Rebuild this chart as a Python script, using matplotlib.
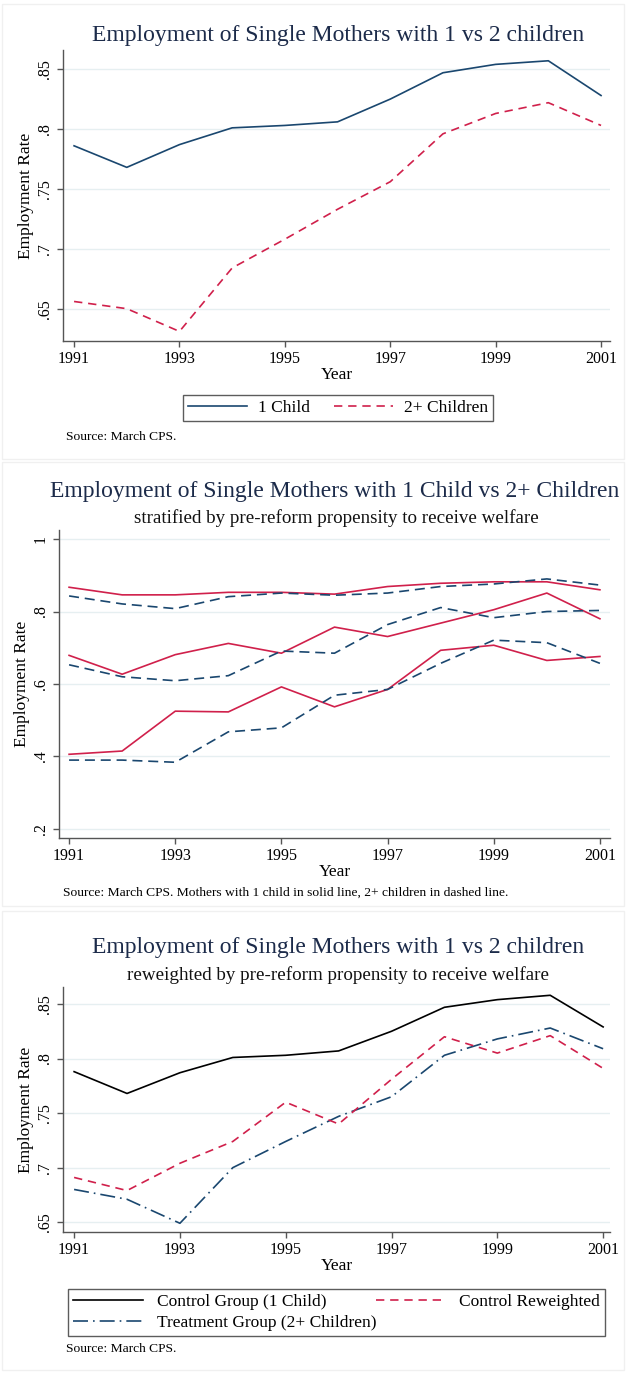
import matplotlib
matplotlib.use("Agg")
import matplotlib.pyplot as plt
from matplotlib.patches import Rectangle

# Data
years = [1991, 1992, 1993, 1994, 1995, 1996, 1997, 1998, 1999, 2000, 2001]
xticks = [1991, 1993, 1995, 1997, 1999, 2001]

# Panel 1
one_child = [.786, .768, .787, .801, .803, .806, .825, .847, .854, .857, .828]
two_plus = [.656, .650, .631, .684, .708, .733, .756, .796, .813, .822, .803]

# Panel 2 (stratified by propensity): high / mid / low groups
one_child_high = [.867, .846, .846, .853, .853, .848, .869, .878, .882, .882, .860]
one_child_mid = [.679, .627, .681, .712, .685, .757, .731, .768, .805, .851, .780]
one_child_low = [.406, .415, .525, .523, .592, .537, .585, .693, .707, .665, .676]
two_plus_high = [.843, .821, .808, .841, .851, .845, .851, .869, .876, .890, .873]
two_plus_mid = [.653, .620, .609, .623, .691, .685, .764, .811, .783, .800, .803]
two_plus_low = [.390, .390, .384, .468, .479, .569, .585, .657, .721, .714, .657]

# Panel 3
control = [.788, .768, .787, .801, .803, .807, .825, .847, .854, .858, .829]
control_rw = [.691, .679, .704, .724, .760, .740, .781, .820, .805, .821, .791]
treatment = [.680, .671, .649, .700, .724, .747, .765, .803, .818, .828, .809]

NAVY = "#1a476f"
RED = "#d0204b"
TITLE_C = "#1c2b4a"
W, H = 626, 1373

plt.rcParams["font.family"] = ["Liberation Serif", "DejaVu Serif"]

fig = plt.figure(figsize=(W / 100, H / 100), dpi=100)
fig.patch.set_facecolor("white")


def fx(px):
    return px / W


def fy(py):
    return 1 - py / H


def make_ax(left, right, top, bottom):
    ax = fig.add_axes([fx(left), fy(bottom), fx(right - left), (bottom - top) / H])
    for s in ["top", "right"]:
        ax.spines[s].set_visible(False)
    for s in ["left", "bottom"]:
        ax.spines[s].set_color("#555555")
        ax.spines[s].set_linewidth(1.0)
    ax.tick_params(colors="#555555", labelcolor="black", length=4, width=1,
                   labelsize=11.5)
    ax.grid(axis="y", color="#e6eff1", lw=1)
    ax.set_axisbelow(True)
    ax.set_xticks(xticks)
    ax.set_xticklabels([str(x) for x in xticks])
    ax.set_xlabel("Year", fontsize=12.5, labelpad=0)
    ax.set_ylabel("Employment Rate", fontsize=12.5, labelpad=2)
    return ax


def set_yt(ax, ticks, labels):
    ax.set_yticks(ticks)
    ax.set_yticklabels(labels, rotation=90, va="center")


# faint panel frames
for top, bot in [(4, 459), (462, 906), (911, 1370)]:
    fig.patches.append(Rectangle((fx(2), fy(bot)), fx(622), (bot - top) / H,
                                 transform=fig.transFigure, fill=False,
                                 ec="#f0f0f0", lw=1))

# ---------- Panel 1 ----------
ax1 = make_ax(63, 610, 50, 341)
ax1.plot(years, one_child, color=NAVY, lw=1.2, label="1 Child")
ax1.plot(years, two_plus, color=RED, lw=1.2, ls=(0, (5, 3.5)), label="2+ Children")
ax1.set_xlim(1990.79, 2001.17)
ax1.set_ylim(.623, .866)
set_yt(ax1, [.65, .7, .75, .8, .85], [".65", ".7", ".75", ".8", ".85"])
fig.text(fx(338), fy(35), "Employment of Single Mothers with 1 vs 2 children",
         ha="center", va="center", fontsize=17, color=TITLE_C)
leg1 = ax1.legend(loc="center", bbox_to_anchor=(fx(338), fy(408)),
                  bbox_transform=fig.transFigure, ncol=2, fontsize=12.5,
                  frameon=True, fancybox=False, edgecolor="#333333",
                  handlelength=3.4, handletextpad=0.6, columnspacing=1.4,
                  borderpad=0.3, borderaxespad=0)
leg1.get_frame().set_linewidth(1)
fig.text(fx(66), fy(437), "Source: March CPS.", fontsize=9.7, va="center")

# ---------- Panel 2 ----------
ax2 = make_ax(59, 610, 530, 838)
for s in [one_child_high, one_child_mid, one_child_low]:
    ax2.plot(years, s, color=RED, lw=1.2)
for s in [two_plus_high, two_plus_mid, two_plus_low]:
    ax2.plot(years, s, color=NAVY, lw=1.2, ls=(0, (6, 3.5)))
ax2.set_xlim(1990.81, 2001.19)
ax2.set_ylim(.175, 1.025)
set_yt(ax2, [.2, .4, .6, .8, 1], [".2", ".4", ".6", ".8", "1"])
fig.text(fx(335), fy(492), "Employment of Single Mothers with 1 Child vs 2+ Children",
         ha="center", va="center", fontsize=17, color=TITLE_C)
fig.text(fx(336), fy(518), "stratified by pre-reform propensity to receive welfare",
         ha="center", va="center", fontsize=13.7, color="#111111")
fig.text(fx(63), fy(893),
         "Source: March CPS. Mothers with 1 child in solid line, 2+ children in dashed line.",
         fontsize=9.7, va="center")

# ---------- Panel 3 ----------
ax3 = make_ax(63, 610, 987, 1232)
ax3.plot(years, control, color="black", lw=1.2, label="Control Group (1 Child)")
ax3.plot(years, treatment, color=NAVY, lw=1.2, ls=(0, (9, 3, 1, 3)),
         label="Treatment Group (2+ Children)")
ax3.plot(years, control_rw, color=RED, lw=1.2, ls=(0, (5, 3.5)),
         label="Control Reweighted")
ax3.set_xlim(1990.79, 2001.13)
ax3.set_ylim(.641, .8656)
set_yt(ax3, [.65, .7, .75, .8, .85], [".65", ".7", ".75", ".8", ".85"])
fig.text(fx(338), fy(948), "Employment of Single Mothers with 1 vs 2 children",
         ha="center", va="center", fontsize=17, color=TITLE_C)
fig.text(fx(338), fy(975), "reweighted by pre-reform propensity to receive welfare",
         ha="center", va="center", fontsize=13.7, color="#111111")
leg3 = ax3.legend(loc="lower left",
                  bbox_to_anchor=(fx(68), fy(1336), fx(537), 49 / H),
                  bbox_transform=fig.transFigure, mode="expand", ncol=2,
                  fontsize=12.5, frameon=True, fancybox=False,
                  edgecolor="#333333", borderaxespad=0, handlelength=4,
                  borderpad=0.3, labelspacing=0.25)
leg3.get_frame().set_linewidth(1)
fig.text(fx(66), fy(1349), "Source: March CPS.", fontsize=9.7, va="center")

fig.savefig("out.png", dpi=100)
